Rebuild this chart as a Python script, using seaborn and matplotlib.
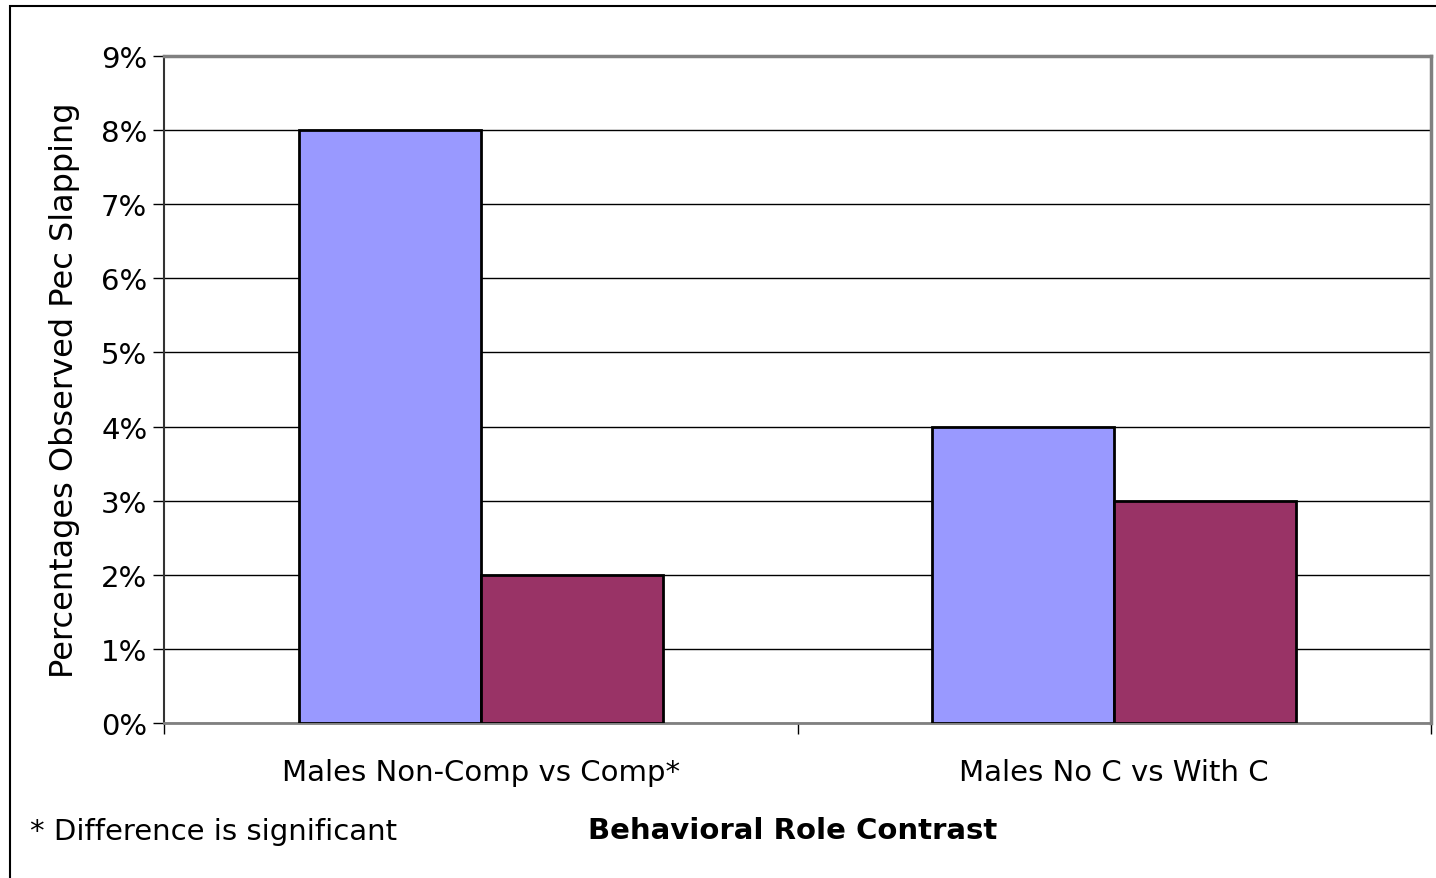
import matplotlib
matplotlib.use("Agg")
import matplotlib.pyplot as plt
import matplotlib.ticker as mticker
from matplotlib.patches import Rectangle
import pandas as pd
import seaborn as sns

# --- Data ---
contrasts = ["Males Non-Comp vs Comp*", "Males No C vs With C"]
groups = ["Group A", "Group B"]
pct_group_a = [8, 4]
pct_group_b = [2, 3]
bar_colors = ["#9999FF", "#993366"]
y_ticks = list(range(0, 10))

df = pd.DataFrame({
    "contrast": contrasts * 2,
    "group": [groups[0]] * 2 + [groups[1]] * 2,
    "pct": pct_group_a + pct_group_b,
})

sns.set_style("white")
plt.rcParams["font.family"] = ["DejaVu Sans"]
plt.rcParams["text.color"] = "black"
plt.rcParams["axes.labelcolor"] = "black"

fig = plt.figure(figsize=(14.36, 8.79), dpi=100)
ax = fig.add_axes([164 / 1436, 1 - 724 / 879, (1431 - 164) / 1436, (724 - 57) / 879])

sns.barplot(data=df, x="contrast", y="pct", hue="group", palette=bar_colors,
            saturation=1, width=0.574, edgecolor="black", linewidth=2,
            legend=False, ax=ax, zorder=3)

# --- Axes styling (Excel look) ---
ax.set_ylim(0, 9)
ax.set_xlim(-0.5, 1.5)
ax.set_yticks(y_ticks)
ax.yaxis.set_major_formatter(mticker.FuncFormatter(lambda v, p: f"{int(v)}%"))
ax.tick_params(axis="y", labelsize=21, length=8, width=1, direction="out",
               left=True, pad=4, colors="black")
ax.grid(axis="y", color="black", linewidth=1, zorder=0)
ax.set_axisbelow(True)

ax.set_xticks([-0.5, 0.5, 1.5])
ax.set_xticklabels([])
ax.tick_params(axis="x", which="major", length=8, width=1, direction="out",
               bottom=True, color="black")
ax.set_xticks([0, 1], minor=True)
ax.set_xticklabels(contrasts, minor=True, fontsize=21)
ax.tick_params(axis="x", which="minor", length=0, pad=25, labelcolor="black")

ax.set_xlabel("")
ax.set_ylabel("Percentages Observed Pec Slapping", fontsize=23)
ax.yaxis.set_label_coords(-(164 - 80) / (1431 - 164), 0.5)

for side in ["top", "right", "bottom"]:
    ax.spines[side].set_visible(True)
    ax.spines[side].set_color("#808080")
    ax.spines[side].set_linewidth(2.5)
ax.spines["bottom"].set_linewidth(2)
ax.spines["left"].set_color("#333333")
ax.spines["left"].set_linewidth(1.5)

fig.text(793 / 1436, 1 - 831 / 879, "Behavioral Role Contrast", fontsize=21,
         fontweight="bold", ha="center", va="center")
fig.text(30 / 1436, 1 - 832 / 879, "* Difference is significant", fontsize=21,
         ha="left", va="center")

# outer chart frame
fig.patches.append(Rectangle((10 / 1436, -0.05), 1.1, 1.05 - 7 / 879,
                             transform=fig.transFigure, fill=False,
                             edgecolor="black", linewidth=1.5))

fig.savefig("out.png", dpi=100)
